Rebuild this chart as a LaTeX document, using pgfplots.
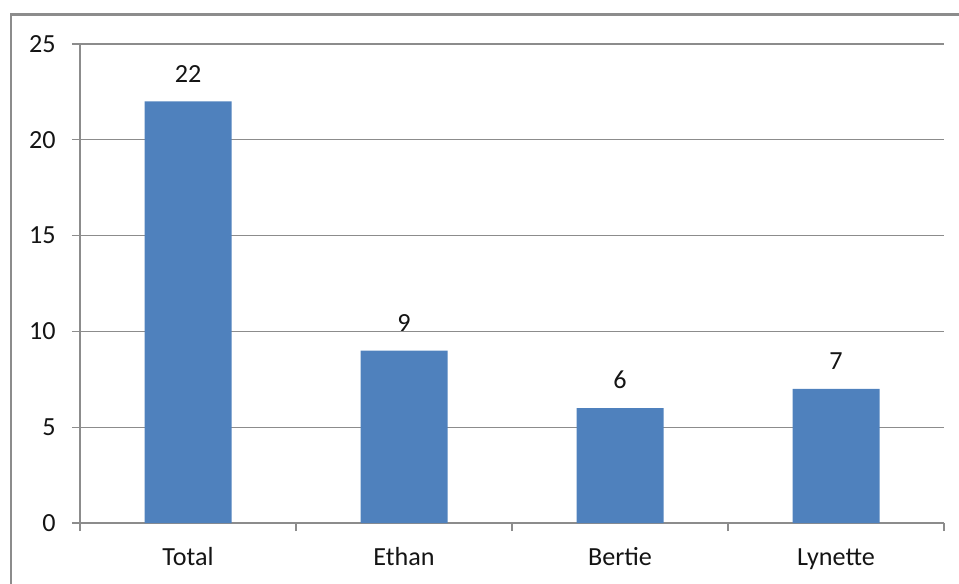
\documentclass[border=0pt]{standalone}
\usepackage{pgfplots}
\pgfplotsset{compat=1.18}
\usepackage{fontspec}
\setmainfont{Carlito}
\definecolor{barblue}{HTML}{4F81BD}
\definecolor{gridgray}{HTML}{8C8C8C}
\definecolor{txt}{HTML}{141414}
\begin{document}
\begin{tikzpicture}[x=0.75pt,y=0.75pt]
\useasboundingbox (0,0) rectangle (959,583);
\clip (0,0) rectangle (959,583);
\draw[gridgray, line width=1.7pt] (11,-20) -- (11,568.5) -- (990,568.5);
\begin{axis}[
  at={(60pt,45pt)}, anchor=south west,
  scale only axis, width=648pt, height=359.25pt,
  xmin=-0.5, xmax=3.5, ymin=0, ymax=25,
  ybar, bar width=65.25pt, bar shift=0pt,
  axis x line*=bottom, axis y line*=left,
  axis line style={gridgray, line width=0.9pt, -},
  xtick={0,1,2,3}, xticklabels={Total,Ethan,Bertie,Lynette},
  major x tick style={draw=none},
  minor xtick={-0.5,0.5,1.5,2.5,3.5},
  minor x tick style={gridgray, line width=0.9pt},
  ytick={0,5,10,15,20,25},
  ytick style={gridgray, line width=0.9pt},
  tick align=outside, major tick length=6pt, minor tick length=6pt,
  ymajorgrids, grid style={gridgray, line width=0.9pt},
  /pgf/number format/assume math mode=true,
  ticklabel style={font=\fontsize{19.6}{23}\selectfont, text=txt},
  xticklabel style={anchor=base, inner sep=0pt, yshift=-26pt},
  yticklabel style={anchor=east, inner sep=0pt, xshift=-12pt},
  nodes near coords,
  every node near coord/.append style={font=\fontsize{19.6}{23}\selectfont, text=txt, anchor=south, inner sep=0pt, yshift=14pt},
]
\addplot[fill=barblue, draw=none] coordinates {(0,22) (1,9) (2,6) (3,7)};
\end{axis}
\end{tikzpicture}
\end{document}
